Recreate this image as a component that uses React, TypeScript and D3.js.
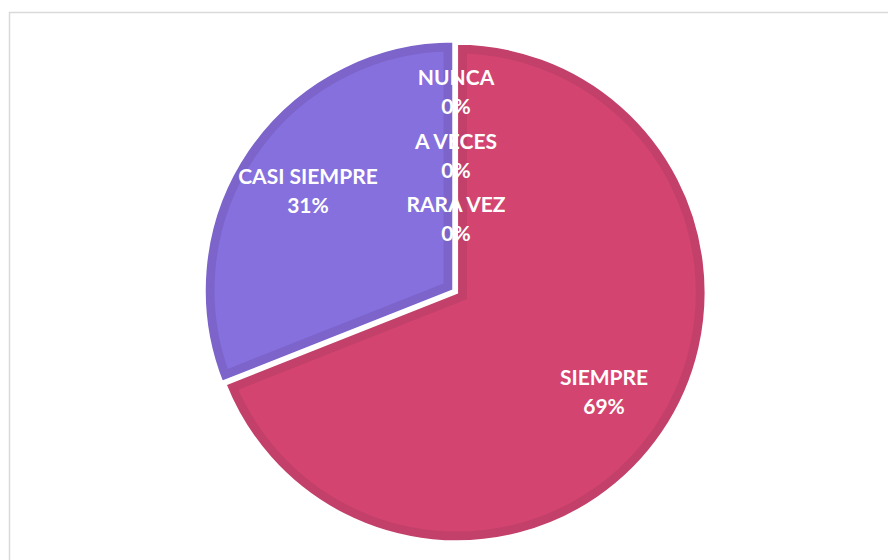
import React, { useEffect, useRef } from 'react';
import * as d3 from 'd3';

// pie data (clockwise from 12 o'clock, as in the original sheet)
const categories = ['SIEMPRE', 'CASI SIEMPRE', 'A VECES', 'RARA VEZ', 'NUNCA'];
const values = [69, 31, 0, 0, 0];
const fills = ['#D34570', '#8570DE', '#A5A5A5', '#FFC000', '#5B9BD5'];
const bands = ['#C2406A', '#7C64CA', '#999999', '#E6AD00', '#4F8AC0'];
// zero-value labels stack near the top in this order
const zeroLabelOrder = ['NUNCA', 'A VECES', 'RARA VEZ'];

const App = () => {
  const svgRef = useRef(null);

  useEffect(() => {
    const svg = d3.select(svgRef.current);
    svg.selectAll('*').remove();

    const width = 888;
    const height = 560;
    const cx = 456;
    const cy = 292;
    const radius = 249;
    const labelRadius = 179;

    // chart area frame
    svg.append('rect')
      .attr('x', 9.5).attr('y', 12.5)
      .attr('width', width).attr('height', height)
      .attr('fill', '#fff')
      .attr('stroke', '#d9d9d9')
      .attr('stroke-width', 1.5);

    const data = categories.map((c, i) => ({ name: c, value: values[i], fill: fills[i], band: bands[i] }));

    const pie = d3.pie().sort(null).value(d => d.value);
    const arcs = pie(data);
    const arc = d3.arc().innerRadius(0).outerRadius(radius);
    const labelArc = d3.arc().innerRadius(labelRadius).outerRadius(labelRadius);

    const defs = svg.append('defs');
    const g = svg.append('g').attr('transform', `translate(${cx},${cy})`);

    // small explode for the smaller slice
    const offsetOf = a => {
      const mid = (a.startAngle + a.endAngle) / 2;
      const off = a.data.name === 'CASI SIEMPRE' ? 3 : 1;
      return [Math.sin(mid) * off, -Math.cos(mid) * off];
    };

    arcs.filter(a => a.value > 0).forEach((a, i) => {
      const [ox, oy] = offsetOf(a);
      const sg = g.append('g').attr('transform', `translate(${ox},${oy})`);
      const id = `clip-${i}`;
      defs.append('clipPath').attr('id', id)
        .append('path').attr('d', arc(a));
      // darker band along the inside of each slice
      sg.append('path')
        .attr('d', arc(a))
        .attr('fill', a.data.fill)
        .attr('stroke', a.data.band)
        .attr('stroke-width', 20)
        .attr('stroke-linejoin', 'miter')
        .attr('clip-path', `url(#${id})`);
      sg.append('path')
        .attr('d', arc(a))
        .attr('fill', 'none')
        .attr('stroke', '#fff')
        .attr('stroke-width', 2.5)
        .attr('stroke-linejoin', 'miter');
    });

    const font = 'Lato, Calibri, "Open Sans", sans-serif';
    const fontSize = 21;
    const lineGap = 29;

    arcs.filter(a => a.value > 0).forEach(a => {
      const [x, y] = labelArc.centroid(a);
      const t = g.append('text')
        .attr('text-anchor', 'middle')
        .attr('font-family', font)
        .attr('font-weight', 'bold')
        .attr('font-size', fontSize)
        .attr('fill', '#fff');
      t.append('tspan').attr('x', x).attr('y', y - lineGap / 2 + 7).text(a.data.name);
      t.append('tspan').attr('x', x).attr('y', y + lineGap / 2 + 7).text(`${a.data.value}%`);
    });

    // zero slices sit at angle 2π; stack their labels down from the top
    const zeroY = d3.scalePoint().domain(zeroLabelOrder).range([-214, -87]);
    zeroLabelOrder.forEach(name => {
      const d = data.find(x => x.name === name);
      const y = zeroY(name);
      const t = g.append('text')
        .attr('text-anchor', 'middle')
        .attr('font-family', font)
        .attr('font-weight', 'bold')
        .attr('font-size', fontSize)
        .attr('fill', '#fff');
      t.append('tspan').attr('x', 0).attr('y', y + 7).text(name);
      t.append('tspan').attr('x', 0).attr('y', y + 7 + lineGap).text(`${d.value}%`);
    });
  }, []);

  return (
    <svg ref={svgRef} width="888" height="560" style={{ position: 'absolute', left: 0, top: 0 }}></svg>
  );
};

export default App;
